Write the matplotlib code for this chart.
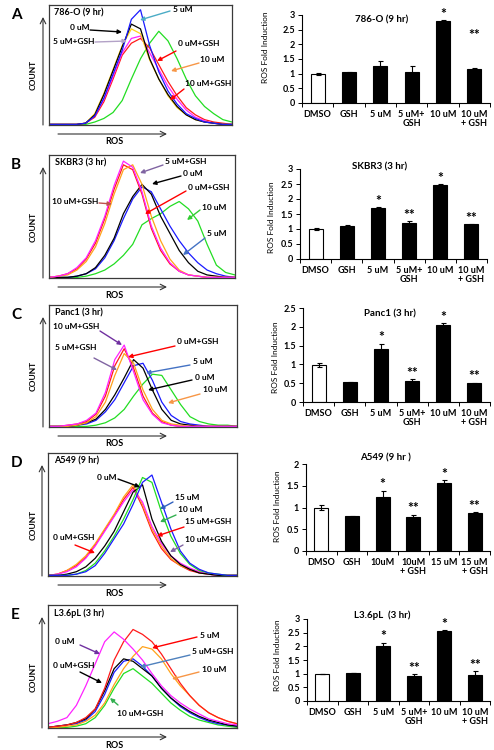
#!/usr/bin/env python3
"""
ROS flow histograms (left) and ROS fold induction bars (right) for five cell lines.
"""

import numpy as np
import matplotlib
matplotlib.use("Agg")
import matplotlib.pyplot as plt
from matplotlib.ticker import FormatStrFormatter

plt.rcParams['font.family'] = ['Lato', 'DejaVu Sans']

# ---- data -------------------------------------------------------------
ros_bins = list(range(0, 101, 5))

# panel A, 786-O (9 hr)
a_green = [0, 0, 0, 0, 0, 2, 5, 10, 20, 38, 55, 68, 78, 70, 55, 38, 24, 15, 9, 4, 2]
a_red = [0, 0, 0, 0, 1, 6, 19, 38, 58, 68, 72, 64, 50, 36, 24, 14, 8, 4, 2, 1, 0]
a_magenta = [0, 0, 0, 0, 1, 7, 21, 40, 60, 72, 74, 60, 46, 32, 21, 12, 6, 3, 1, 0, 0]
a_yellow = [0, 0, 0, 0, 1, 9, 26, 46, 66, 80, 76, 54, 38, 24, 14, 8, 4, 2, 1, 0, 0]
a_black = [0, 0, 0, 0, 1, 8, 25, 45, 65, 84, 80, 55, 38, 25, 15, 8, 4, 2, 1, 0, 0]
a_blue = [0, 0, 0, 0, 1, 7, 22, 42, 62, 88, 96, 66, 44, 28, 17, 9, 5, 2, 1, 0, 0]

# panel B, SKBR3 (3 hr)
b_green = [0, 0, 0, 0, 1, 3, 6, 11, 18, 27, 43, 48, 52, 58, 62, 56, 46, 27, 10, 4, 2]
b_blue = [0, 0, 0, 1, 3, 7, 16, 30, 48, 64, 74, 70, 56, 42, 30, 20, 12, 6, 3, 1, 0]
b_black = [0, 0, 0, 1, 3, 8, 18, 32, 52, 66, 76, 68, 50, 36, 22, 12, 5, 2, 1, 0, 0]
b_red = [0, 1, 3, 7, 15, 28, 48, 72, 92, 88, 68, 40, 22, 11, 5, 2, 1, 0, 0, 0, 0]
b_orange = [0, 1, 2, 6, 13, 25, 44, 68, 88, 92, 76, 50, 30, 15, 6, 2, 1, 0, 0, 0, 0]
b_magenta = [0, 1, 3, 8, 16, 30, 50, 75, 95, 90, 70, 42, 24, 12, 5, 2, 1, 0, 0, 0, 0]

# panel C, Panc1 (3 hr)
c_green = [0, 0, 0, 0, 0, 1, 3, 7, 14, 25, 35, 43, 42, 30, 18, 8, 4, 2, 1, 1, 0]
c_blue = [0, 0, 0, 1, 2, 5, 12, 22, 36, 50, 52, 38, 20, 9, 4, 2, 1, 0, 0, 0, 0]
c_black = [0, 0, 0, 1, 3, 6, 14, 26, 40, 55, 48, 30, 14, 5, 2, 1, 0, 0, 0, 0, 0]
c_red = [0, 0, 1, 2, 4, 10, 25, 50, 64, 48, 25, 11, 4, 1, 0, 0, 0, 0, 0, 0, 0]
c_orange = [0, 0, 0, 1, 3, 8, 20, 42, 60, 52, 30, 14, 5, 2, 1, 0, 0, 0, 0, 0, 0]
c_magenta = [0, 0, 1, 2, 5, 11, 28, 55, 67, 45, 22, 10, 3, 1, 0, 0, 0, 0, 0, 0, 0]

# panel D, A549 (9 hr)
d_red = [0, 1, 4, 8, 15, 25, 37, 49, 62, 72, 56, 36, 22, 13, 8, 4, 2, 1, 0, 0, 0]
d_orange = [0, 1, 4, 9, 16, 26, 38, 50, 64, 74, 58, 38, 24, 14, 8, 5, 3, 1, 0, 0, 0]
d_magenta = [0, 1, 3, 7, 14, 24, 36, 48, 60, 70, 60, 40, 26, 16, 10, 6, 3, 1, 0, 0, 0]
d_black = [0, 0, 1, 3, 7, 14, 24, 36, 52, 68, 74, 46, 28, 16, 9, 5, 2, 1, 0, 0, 0]
d_green = [0, 0, 0, 1, 4, 10, 20, 32, 46, 62, 80, 76, 52, 32, 18, 9, 4, 2, 1, 0, 0]
d_blue = [0, 0, 0, 1, 3, 8, 18, 30, 42, 58, 76, 82, 60, 38, 20, 10, 5, 2, 1, 0, 0]

# panel E, L3.6pL (3 hr)
e_green = [0, 0, 0, 1, 3, 8, 18, 32, 44, 48, 42, 36, 28, 20, 14, 9, 6, 4, 2, 1, 0]
e_blue = [0, 1, 2, 3, 6, 13, 27, 45, 54, 56, 50, 42, 32, 24, 17, 12, 8, 5, 3, 2, 1]
e_black = [0, 1, 2, 4, 7, 15, 30, 48, 56, 54, 48, 42, 32, 24, 18, 13, 9, 6, 4, 2, 1]
e_orange = [0, 0, 1, 2, 5, 10, 20, 35, 48, 58, 66, 64, 56, 44, 34, 26, 18, 12, 8, 5, 3]
e_red = [0, 1, 2, 4, 8, 15, 32, 55, 70, 80, 76, 70, 60, 48, 36, 26, 18, 12, 8, 5, 3]
e_magenta = [3, 5, 8, 18, 34, 52, 70, 78, 72, 64, 55, 44, 34, 26, 20, 15, 11, 7, 5, 3, 2]

# bar charts
groups_5_10 = ["DMSO", "GSH", "5 uM", "5 uM+\nGSH", "10 uM", "10 uM\n+ GSH"]
groups_10_15 = ["DMSO", "GSH", "10uM", "10uM\n+ GSH", "15 uM", "15 uM\n+ GSH"]
stars_a = ["", "", "", "", "*", "**"]
stars = ["", "", "*", "**", "*", "**"]

fold_a = [1.0, 1.05, 1.25, 1.05, 2.78, 1.16]
err_a = [0.03, 0.02, 0.18, 0.2, 0.05, 0.02]
fold_b = [1.0, 1.1, 1.7, 1.2, 2.47, 1.15]
err_b = [0.03, 0.02, 0.03, 0.06, 0.02, 0.01]
fold_c = [0.98, 0.52, 1.4, 0.55, 2.05, 0.5]
err_c = [0.06, 0.02, 0.15, 0.05, 0.05, 0.01]
fold_d = [1.0, 0.8, 1.25, 0.78, 1.57, 0.88]
err_d = [0.05, 0.01, 0.14, 0.05, 0.06, 0.01]
fold_e = [1.0, 1.02, 2.02, 0.92, 2.57, 0.95]
err_e = [0.0, 0.01, 0.12, 0.05, 0.02, 0.15]

# ---- layout (pixels, from the top-left of a 494x750 figure) -----------
W, H = 494, 750
BLUE, GREEN, RED = '#1a1aff', '#22dd22', '#ff1a1a'
MAGENTA, YELLOW, ORANGE = '#ff22ff', '#ffd21a', '#ffa21a'


def frac(px, py):
    return px / W, 1 - py / H


def box(left, top, right, bottom):
    return [left / W, 1 - bottom / H, (right - left) / W, (bottom - top) / H]


def draw_histogram(fig, rect, curves, title, letter, notes):
    """
    One flow cytometry overlay with arrow labels.
    """
    left, top, right, bottom = rect
    ax = fig.add_axes(box(*rect))
    for counts, color in curves:
        ax.plot(ros_bins, counts, color=color, lw=0.9)
    ax.set_xlim(0, 100)
    ax.set_ylim(-0.5, 100)
    ax.set_xticks([])
    ax.set_yticks([])
    for sp in ax.spines.values():
        sp.set_color('#3a3a3a')
        sp.set_linewidth(0.9)
    ax.text(0.03, 0.975, title, transform=ax.transAxes, va='top', ha='left',
            fontsize=6.5, fontweight='bold')

    arrow = dict(arrowstyle='->', color='#333333', lw=0.8, shrinkA=0, shrinkB=0)
    ax.annotate('', xy=frac(left - 6, top + 12), xytext=frac(left - 6, bottom),
                xycoords='figure fraction', textcoords='figure fraction',
                arrowprops=dict(arrow, mutation_scale=10), annotation_clip=False)
    ax.annotate('', xy=frac(167, bottom + 9), xytext=frac(58, bottom + 9),
                xycoords='figure fraction', textcoords='figure fraction',
                arrowprops=dict(arrow, mutation_scale=10), annotation_clip=False)
    fig.text(*frac(33, (top + bottom) / 2 + 10), 'COUNT', rotation=90, ha='center',
             va='center', fontsize=6, fontweight='bold')
    fig.text(*frac(114, bottom + 17), 'ROS', ha='center', va='center',
             fontsize=6.5, fontweight='bold')
    fig.text(*frac(11, top + 10), letter, ha='left', va='center', fontsize=11,
             fontweight='bold')

    for label, tx, ty, ax0, ay0, hx, hy, color in notes:
        fig.text(*frac(tx, ty), label, ha='left', va='center', fontsize=6,
                 fontweight='bold')
        ax.annotate('', xy=frac(hx, hy), xytext=frac(ax0, ay0),
                    xycoords='figure fraction', textcoords='figure fraction',
                    arrowprops=dict(arrowstyle='-|>', color=color, lw=1.0,
                                    mutation_scale=6, shrinkA=0, shrinkB=0),
                    annotation_clip=False)


def draw_bars(fig, rect, groups, values, errors, marks, ymax, title, title_xy,
              ylabel_xy, mark_levels=None):
    """
    ROS fold induction bars, DMSO as the open bar.
    """
    ax = fig.add_axes(box(*rect))
    x = np.arange(len(groups))
    colors = ['white'] + ['black'] * (len(groups) - 1)
    ax.bar(x, values, width=0.45, color=colors, edgecolor='black', lw=0.8,
           yerr=errors, capsize=1.8,
           error_kw=dict(elinewidth=0.8, capthick=0.8, ecolor='black'))
    for i, (v, e, s) in enumerate(zip(values, errors, marks)):
        if not s:
            continue
        level = v + e + ymax * 0.005
        if mark_levels is not None and mark_levels[i] is not None:
            level = mark_levels[i]
        ax.text(i, level, s, ha='center', va='bottom', fontsize=10,
                fontweight='bold')
    ax.set_xlim(-0.5, len(groups) - 0.5)
    ax.set_ylim(0, ymax)
    ax.set_yticks(np.arange(0, ymax + 0.01, 0.5))
    ax.yaxis.set_major_formatter(FormatStrFormatter('%g'))
    ax.set_xticks(np.arange(-0.5, len(groups), 1.0))
    ax.set_xticklabels([])
    ax.set_xticks(x, minor=True)
    ax.set_xticklabels(groups, minor=True, fontsize=6.5, fontweight='bold',
                       linespacing=1.05)
    ax.tick_params(axis='x', which='minor', length=0, pad=5)
    ax.tick_params(axis='x', which='major', length=3, width=0.7)
    ax.tick_params(axis='y', length=3, width=0.7, labelsize=6.5, pad=2)
    for lbl in ax.get_yticklabels():
        lbl.set_fontweight('bold')
    ax.spines['top'].set_visible(False)
    ax.spines['right'].set_visible(False)
    for side in ('left', 'bottom'):
        ax.spines[side].set_linewidth(0.8)
    ax.patch.set_alpha(0)
    fig.text(*frac(*title_xy), title, ha='center', va='center', fontsize=7,
             fontweight='bold')
    fig.text(*frac(*ylabel_xy), 'ROS Fold Induction', rotation=90, ha='center',
             va='center', fontsize=6)


fig = plt.figure(figsize=(W / 100, H / 100), dpi=100)

draw_histogram(
    fig, (49, 5, 232, 125),
    [(a_green, GREEN), (a_red, RED), (a_magenta, MAGENTA), (a_yellow, YELLOW),
     (a_black, 'black'), (a_blue, BLUE)],
    '786-O (9 hr)', 'A',
    [("5 uM", 173, 9, 170, 11, 140, 20, '#4bacc6'),
     ("0 uM", 70, 27, 90, 30, 122, 32, 'black'),
     ("5 uM+GSH", 53, 42, 95, 42, 127, 41, '#b3a2c7'),
     ("0 uM+GSH", 178, 43, 176, 51, 157, 61, 'red'),
     ("10 uM", 200, 60, 199, 63, 171, 71, '#f79646'),
     ("10 uM+GSH", 185, 84, 184, 89, 170, 100, 'red')])

draw_histogram(
    fig, (49, 155, 235, 278),
    [(b_green, GREEN), (b_blue, BLUE), (b_black, 'black'), (b_red, RED),
     (b_orange, ORANGE), (b_magenta, MAGENTA)],
    'SKBR3 (3 hr)', 'B',
    [("5 uM+GSH", 165, 162, 163, 165, 140, 173, '#8064a2'),
     ("0 uM", 183, 173, 181, 176, 152, 184, 'black'),
     ("0 uM+GSH", 188, 188, 186, 191, 145, 214, 'red'),
     ("10 uM+GSH", 52, 202, 99, 203, 112, 204, '#c0504d'),
     ("10 uM", 202, 207, 200, 210, 187, 220, '#33cc33'),
     ("5 uM", 207, 233, 205, 238, 183, 255, '#4472c4')])

draw_histogram(
    fig, (49, 305, 237, 427),
    [(c_green, GREEN), (c_blue, BLUE), (c_black, 'black'), (c_red, RED),
     (c_orange, ORANGE), (c_magenta, MAGENTA)],
    'Panc1 (3 hr)', 'C',
    [("10 uM+GSH", 53, 327, 100, 331, 122, 345, '#7030a0'),
     ("5 uM+GSH", 55, 348, 94, 358, 117, 370, '#8064a2'),
     ("0 uM+GSH", 177, 342, 175, 346, 128, 357, 'red'),
     ("5 uM", 193, 362, 190, 365, 146, 373, '#4472c4'),
     ("0 uM", 195, 377, 192, 380, 148, 390, 'black'),
     ("10 uM", 203, 390, 200, 394, 168, 403, '#f79646')])

draw_histogram(
    fig, (48, 453, 237, 576),
    [(d_red, RED), (d_orange, ORANGE), (d_magenta, MAGENTA), (d_black, 'black'),
     (d_green, GREEN), (d_blue, BLUE)],
    'A549 (9 hr)', 'D',
    [("0 uM", 97, 478, 118, 479, 140, 487, 'black'),
     ("15 uM", 175, 497, 173, 502, 160, 509, '#2e5fbf'),
     ("10 uM", 178, 510, 176, 515, 160, 522, '#33b050'),
     ("15 uM+GSH", 185, 522, 184, 527, 157, 536, 'red'),
     ("10 uM+GSH", 185, 540, 183, 545, 170, 552, '#8064a2'),
     ("0 uM+GSH", 53, 538, 75, 545, 95, 553, 'red')])

draw_histogram(
    fig, (48, 605, 237, 728),
    [(e_green, GREEN), (e_blue, BLUE), (e_black, 'black'), (e_orange, ORANGE),
     (e_red, RED), (e_magenta, MAGENTA)],
    'L3.6pL (3 hr)', 'E',
    [("0 uM", 55, 642, 80, 645, 100, 654, '#7030a0'),
     ("5 uM", 200, 635, 197, 637, 152, 648, 'red'),
     ("5 uM+GSH", 192, 652, 190, 655, 140, 667, '#4f81bd'),
     ("0 uM+GSH", 53, 665, 80, 672, 102, 683, 'black'),
     ("10 uM", 202, 670, 199, 672, 172, 679, '#f79646'),
     ("10 uM+GSH", 117, 713, 118, 705, 110, 698, '#33b050')])

draw_bars(fig, (302, 15, 490, 103), groups_5_10, fold_a, err_a, stars_a, 3,
          '786-O (9 hr)', (382, 20), (265, 47),
          mark_levels=[None, None, None, None, None, 2.1])
draw_bars(fig, (300, 169, 487, 259), groups_5_10, fold_b, err_b, stars, 3,
          'SKBR3 (3 hr)', (380, 167), (272, 217))
draw_bars(fig, (303, 308, 490, 402), groups_5_10, fold_c, err_c, stars, 2.5,
          'Panc1 (3 hr)', (390, 314), (275, 357))
draw_bars(fig, (306, 464, 490, 551), groups_10_15, fold_d, err_d, stars, 2,
          'A549 (9 hr )', (385, 458), (277, 506))
draw_bars(fig, (307, 619, 490, 701), groups_5_10, fold_e, err_e, stars, 3,
          'L3.6pL  (3 hr)', (382, 615), (277, 655))

fig.savefig('out.png', dpi=100)
